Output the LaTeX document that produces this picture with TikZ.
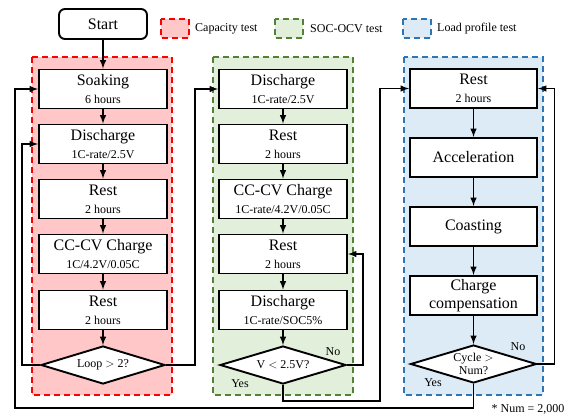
\documentclass[tikz,border=0pt]{standalone}
\usepackage{fontspec}
\setmainfont{Liberation Serif}
\usepackage{xcolor}
\usepackage{tikz}
\usetikzlibrary{arrows}
\usetikzlibrary{shapes.geometric}

\definecolor{capred}{RGB}{255,0,0}
\definecolor{capfill}{RGB}{255,199,199}
\definecolor{socgreen}{RGB}{84,130,53}
\definecolor{socfill}{RGB}{226,239,218}
\definecolor{loadblue}{RGB}{46,117,182}
\definecolor{loadfill}{RGB}{221,235,247}

\newcommand{\boxsub}[1]{{\fontsize{12}{15}\selectfont #1}}

\begin{document}
\begin{tikzpicture}[x=1pt,y=-1pt,
  box/.style={draw,line width=1.9pt,fill=white,minimum width=128pt,minimum height=39pt,inner sep=0pt,align=center,font=\fontsize{16}{18}\selectfont},
  decision/.style={draw,diamond,line width=1.9pt,fill=white,minimum width=124pt,minimum height=38pt,aspect=3.2,inner sep=0pt,align=center,font=\fontsize{12}{13}\selectfont},
  flow/.style={line width=1.9pt,-latex},
  group/.style={line width=1.7pt,dash pattern=on 6pt off 4pt},
  small/.style={inner sep=0pt,font=\fontsize{12}{14}\selectfont}]
\useasboundingbox (0,0) rectangle (578,418);
%% test groups
\draw[group,draw=capred,fill=capfill] (32,57) rectangle (172,395);
\draw[group,draw=socgreen,fill=socfill] (213,57) rectangle (353,395);
\draw[group,draw=loadblue,fill=loadfill] (404,57) rectangle (543,395);
%% legend
\draw[group,draw=capred,fill=capfill] (161,19) rectangle (189,38);
\node[small,anchor=west] (capleg) at (195,29) {Capacity test};
\draw[group,draw=socgreen,fill=socfill] (275,19) rectangle (303,38);
\node[small,anchor=west] (socleg) at (310,29) {SOC-OCV test};
\draw[group,draw=loadblue,fill=loadfill] (403,19) rectangle (431,38);
\node[small,anchor=west] (loadleg) at (437,29) {Load profile test};
\node[draw,rounded corners=6pt,line width=1.9pt,minimum width=88pt,minimum height=30pt,font=\fontsize{16}{18}\selectfont] (start) at (103,24) {Start};
%% capacity test
\node[box] (soak) at (103,89) {Soaking\\\boxsub{6 hours}};
\node[box] (cdis) at (103,144) {Discharge\\\boxsub{1C-rate/2.5V}};
\node[box] (crest1) at (103,199) {Rest\\\boxsub{2 hours}};
\node[box] (cchg) at (103,254) {CC-CV Charge\\\boxsub{1C/4.2V/0.05C}};
\node[box] (crest2) at (103,310) {Rest\\\boxsub{2 hours}};
\node[decision] (loop) at (103,365) {Loop $>$ 2?};
%% SOC-OCV test
\node[box] (sdis1) at (283,89) {Discharge\\\boxsub{1C-rate/2.5V}};
\node[box] (srest1) at (283,144) {Rest\\\boxsub{2 hours}};
\node[box] (schg) at (283,199) {CC-CV Charge\\\boxsub{1C-rate/4.2V/0.05C}};
\node[box] (srest2) at (283,254) {Rest\\\boxsub{2 hours}};
\node[box] (sdis2) at (283,310) {Discharge\\\boxsub{1C-rate/SOC5\%}};
\node[decision,minimum width=126pt] (volt) at (283,365) {V $<$ 2.5V?};
%% load profile test
\node[box,minimum width=127pt] (lrest) at (473.5,88.5) {Rest\\\boxsub{2 hours}};
\node[box,minimum width=127pt] (accel) at (473.5,157.5) {Acceleration};
\node[box,minimum width=127pt] (coast) at (473.5,226.5) {Coasting};
\node[box,minimum width=127pt] (comp) at (473.5,295.5) {Charge\\compensation};
\node[decision,minimum width=126pt] (cycle) at (473.5,364) {Cycle $>$\\Num?};
%% straight arrows
\foreach \a/\b in {start/soak,soak/cdis,cdis/crest1,crest1/cchg,cchg/crest2,crest2/loop,
  sdis1/srest1,srest1/schg,schg/srest2,srest2/sdis2,sdis2/volt,
  lrest/accel,accel/coast,coast/comp,comp/cycle}
    \draw[flow] (\a) -- (\b);
%% loops
\coordinate (back) at (15,408);
\coordinate (gout) at (380,401);
\draw[flow] (loop.west) -- ++(-18,0) |- (cdis.west);
\draw[flow] (loop.east) -- ++(29,0) |- (sdis1.west);
\draw[flow] (volt.east) -- ++(16,0) |- (srest2.east);
\draw[flow] (volt.south) |- (gout) |- (lrest.west);
\draw[flow] (cycle.east) -- ++(17,0) |- (lrest.east);
\draw[flow] (cycle.south) |- (back) |- (soak.west);
%% labels
\node[small] (vno) at (333,352) {No};
\node[small] (vyes) at (240,384) {Yes};
\node[small] (cno) at (518,347) {No};
\node[small] (cyes) at (433,383) {Yes};
\node[small] (note) at (528,409) {* Num = 2,000};
\end{tikzpicture}
\end{document}
